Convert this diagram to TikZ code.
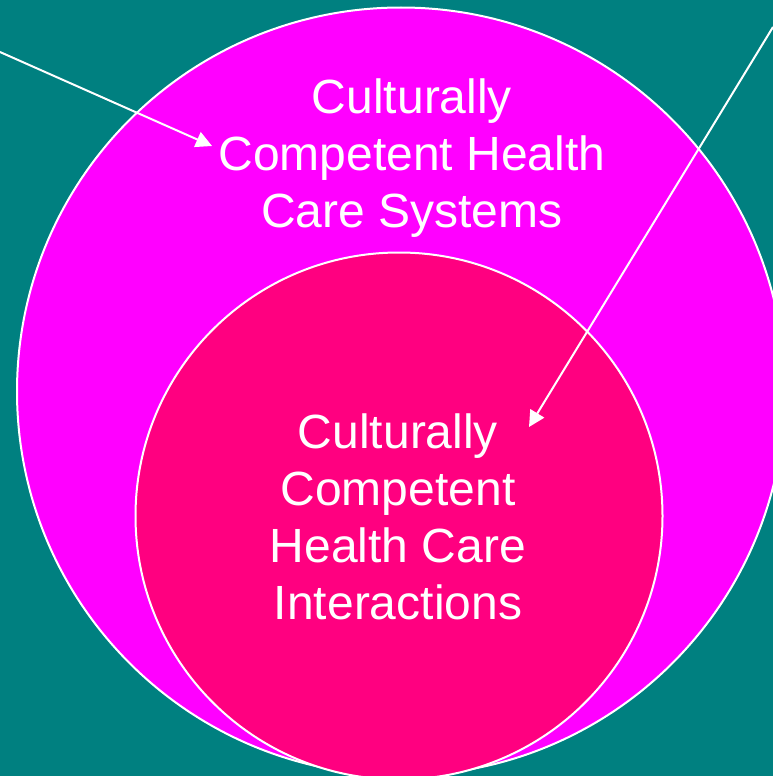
\documentclass[tikz,border=0pt]{standalone}
\usepackage{fontspec}
\setmainfont{Liberation Sans}
\usetikzlibrary{arrows.meta}
\definecolor{bgteal}{HTML}{008080}
\definecolor{outermag}{HTML}{FF00FF}
\definecolor{innerpink}{HTML}{FF0080}
\begin{document}
\begin{tikzpicture}[x=1pt,y=-1pt,
  ring/.style={circle,draw=white,line width=2pt,inner sep=0pt,outer sep=0pt},
  caption/.style={text=white,align=center,font=\fontsize{48}{57}\selectfont,inner sep=0pt},
  pointer/.style={draw=white,line width=2pt,-{Triangle[length=16pt,width=16pt]}}]
\useasboundingbox (0,0) rectangle (773,776);
\clip (0,0) rectangle (773,776);
\fill[bgteal] (0,0) rectangle (773,776);
\node[ring,fill=outermag,minimum size=768pt] (outer) at (401,391.5) {};
\node[ring,fill=innerpink,minimum size=527pt] (inner) at (399,516) {};
\node[caption] (systems) at (412,158) {Culturally\\Competent Health\\Care Systems};
\node[caption] (interactions) at (398,517) {Culturally\\Competent\\Health Care\\Interactions};
\coordinate (s1) at (0,52);
\coordinate (t1) at (212,146);
\coordinate (s2) at (773,27);
\coordinate (t2) at (529,427);
\draw[pointer] (s1) -- (t1);
\draw[pointer] (s2) -- (t2);
\end{tikzpicture}
\end{document}
